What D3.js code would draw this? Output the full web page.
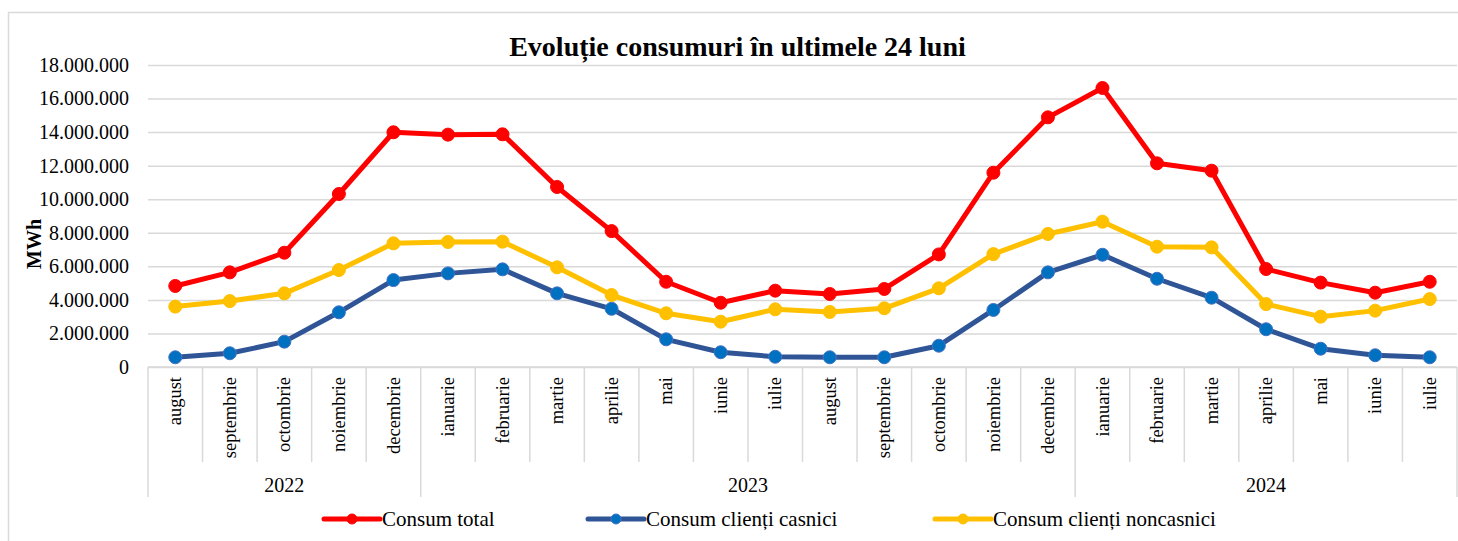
<!DOCTYPE html>
<html>
<head>
<meta charset="utf-8">
<script src="https://cdn.jsdelivr.net/npm/d3@7/dist/d3.min.js"></script>
<style>
  html, body { margin: 0; padding: 0; background: #fff; }
  svg { display: block; }
  svg text { font-family: "Liberation Serif", "Times New Roman", serif !important; fill: #000; }
</style>
</head>
<body>
<svg id="chart" width="1458" height="541"></svg>
<script>
// ---------- DATA ----------
const months = ["august","septembrie","octombrie","noiembrie","decembrie",
  "ianuarie","februarie","martie","aprilie","mai","iunie","iulie",
  "august","septembrie","octombrie","noiembrie","decembrie",
  "ianuarie","februarie","martie","aprilie","mai","iunie","iulie"];
const years = [
  {label: "2022", start: 0, end: 5},
  {label: "2023", start: 5, end: 17},
  {label: "2024", start: 17, end: 24}
];
const consumTotal = [4830000, 5640000, 6810000, 10310000, 13990000, 13850000, 13870000, 10730000, 8100000,
  5080000, 3830000, 4550000, 4350000, 4650000, 6710000, 11580000, 14880000,
  16630000, 12140000, 11700000, 5840000, 5030000, 4430000, 5080000];
const consumCasnici = [580000, 820000, 1510000, 3260000, 5180000, 5580000, 5820000, 4390000, 3470000,
  1650000, 880000, 610000, 580000, 580000, 1270000, 3400000, 5640000,
  6690000, 5260000, 4130000, 2250000, 1090000, 700000, 580000];
const consumNoncasnici = [3600000, 3930000, 4390000, 5780000, 7370000, 7450000, 7470000, 5940000, 4290000,
  3200000, 2700000, 3440000, 3280000, 3500000, 4690000, 6730000, 7930000,
  8660000, 7170000, 7130000, 3750000, 3000000, 3360000, 4050000];
const yTicks = [0, 2000000, 4000000, 6000000, 8000000, 10000000, 12000000, 14000000, 16000000, 18000000];
const seriesNames = ["Consum total", "Consum clienți casnici", "Consum clienți noncasnici"];
const titleText = "Evoluție consumuri în ultimele 24 luni";
const yAxisLabel = "MWh";

// ---------- LAYOUT ----------
const W = 1458, H = 541;
const plot = {left: 148, right: 1457, top: 65, bottom: 367};
const gridColor = "#D9D9D9";
const serif = '"Liberation Serif", "Times New Roman", serif';

const series = [
  {name: seriesNames[0], values: consumTotal, line: "#FF0000", fill: "#FF0000", stroke: "#FF0000"},
  {name: seriesNames[1], values: consumCasnici, line: "#2F5597", fill: "#0070C0", stroke: "#4472C4"},
  {name: seriesNames[2], values: consumNoncasnici, line: "#FFC000", fill: "#FFC000", stroke: "#FFC000"}
];

const svg = d3.select("#chart");

// chart border
svg.append("rect").attr("x", 8.5).attr("y", 12.5).attr("width", 1460).attr("height", 540)
  .attr("fill", "#fff").attr("stroke", gridColor).attr("stroke-width", 1.5);

const x = d3.scaleBand().domain(d3.range(months.length)).range([plot.left, plot.right]).padding(0);
const y = d3.scaleLinear().domain([0, 18000000]).range([plot.bottom, plot.top]);

const loc = d3.formatLocale({thousands: ".", grouping: [3], decimal: ",", currency: ["", ""]});
const fmt = loc.format(",.0f");

// gridlines
const grid = svg.append("g").attr("transform", `translate(${plot.left},0)`)
  .call(d3.axisLeft(y).tickValues(yTicks).tickSize(-(plot.right - plot.left)).tickFormat(""));
grid.select(".domain").remove();
grid.selectAll("line").attr("stroke", gridColor).attr("stroke-width", 1.5);

// y axis labels
const yAx = svg.append("g").attr("transform", `translate(${plot.left},0)`)
  .call(d3.axisLeft(y).tickValues(yTicks).tickSize(0).tickPadding(19).tickFormat(fmt));
yAx.attr("font-family", serif).attr("font-size", 20);
yAx.select(".domain").remove();
yAx.selectAll("text").style("font-family", serif).style("font-size", "20px").attr("fill", "#000");

// y axis title
svg.append("text").attr("transform", "translate(41,244) rotate(-90)")
  .attr("text-anchor", "middle").style("font-size", "20px").attr("font-weight", "bold").text(yAxisLabel);

// x axis category separators
const xAxisG = svg.append("g");
const bounds = d3.range(months.length + 1).map(i => i < months.length ? x(i) : x(months.length - 1) + x.bandwidth());
const yearBounds = new Set(years.flatMap(g => [g.start, g.end]));
xAxisG.selectAll("line.sep").data(bounds).join("line")
  .attr("class", "sep")
  .attr("x1", d => d).attr("x2", d => d)
  .attr("y1", plot.bottom)
  .attr("y2", (d, i) => yearBounds.has(i) ? 497 : 462)
  .attr("stroke", gridColor).attr("stroke-width", 1.5);
xAxisG.append("line").attr("x1", plot.left).attr("x2", plot.right)
  .attr("y1", plot.bottom).attr("y2", plot.bottom).attr("stroke", gridColor).attr("stroke-width", 1.5);

// month labels
xAxisG.selectAll("text.month").data(months).join("text")
  .attr("class", "month")
  .attr("transform", (d, i) => `translate(${x(i) + x.bandwidth() / 2},377) rotate(-90)`)
  .attr("dy", "0.33em")
  .attr("text-anchor", "end").style("font-size", "18.5px").text(d => d);

// year labels
xAxisG.selectAll("text.year").data(years).join("text")
  .attr("class", "year")
  .attr("x", d => (x(d.start) + bounds[d.end]) / 2)
  .attr("y", 492).attr("text-anchor", "middle").style("font-size", "20px").text(d => d.label);

// title
svg.append("text").attr("x", 737.5).attr("y", 56).attr("text-anchor", "middle")
  .style("font-size", "28px").attr("font-weight", "bold").text(titleText);

// lines and markers
const lineGen = d3.line().x((d, i) => x(i) + x.bandwidth() / 2).y(d => y(d));
series.forEach(s => {
  const g = svg.append("g");
  g.append("path").datum(s.values).attr("d", lineGen)
    .attr("fill", "none").attr("stroke", s.line).attr("stroke-width", 5).attr("stroke-linejoin", "round");
  g.selectAll("circle").data(s.values).join("circle")
    .attr("cx", (d, i) => x(i) + x.bandwidth() / 2).attr("cy", d => y(d)).attr("r", 6.5)
    .attr("fill", s.fill).attr("stroke", s.stroke).attr("stroke-width", 1);
});

// legend
const legendPos = [324, 588, 935];
const lg = svg.append("g");
series.forEach((s, i) => {
  const lx = legendPos[i];
  lg.append("line").attr("x1", lx).attr("x2", lx + 56).attr("y1", 519).attr("y2", 519)
    .attr("stroke", s.line).attr("stroke-width", 5).attr("stroke-linecap", "round");
  lg.append("circle").attr("cx", lx + 28).attr("cy", 519).attr("r", 5)
    .attr("fill", s.fill).attr("stroke", s.stroke).attr("stroke-width", 1);
  lg.append("text").attr("x", lx + 58).attr("y", 526).style("font-size", "21px").text(s.name);
});
</script>
</body>
</html>
